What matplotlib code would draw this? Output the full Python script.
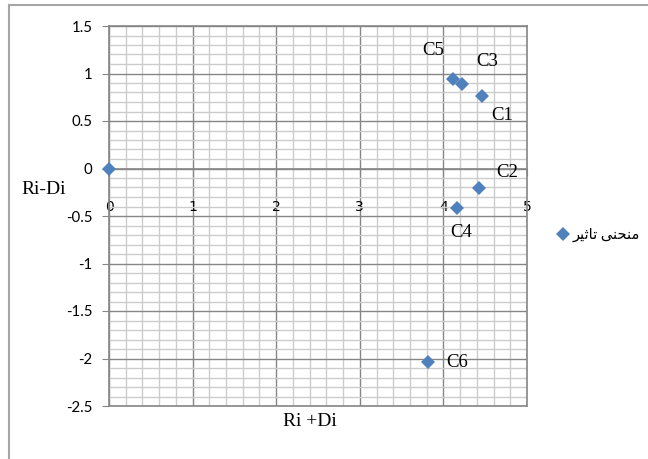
import matplotlib
matplotlib.use("Agg")
import matplotlib.pyplot as plt
from matplotlib.lines import Line2D
from matplotlib.ticker import MultipleLocator, FixedLocator

# --- данные ---
labels = ["", "C5", "C3", "C1", "C2", "C4", "C6"]
x_vals = [0.0, 4.11, 4.22, 4.46, 4.43, 4.16, 3.82]
y_vals = [0.0, 0.94, 0.89, 0.76, -0.21, -0.42, -2.04]
# смещения подписей (в пикселях) относительно точек
label_dx = [0, -19, 25, 20, 28, 4, 29]
label_dy = [0, 29, 22, -19, 16, -24, 0]

y_ticks = [-2.5, -2, -1.5, -1, -0.5, 0, 0.5, 1, 1.5]
y_tick_labels = ["-2.5", "-2", "-1.5", "-1", "-0.5", "0", "0.5", "1", "1.5"]
x_ticks = [0, 1, 2, 3, 4, 5]

# "منحنی تاثیر" в формах представления, в визуальном порядке (слева направо)
legend_label = "\uFEAE\uFBFF\uFE9B\uFE8E\uFE97 \uFBFD\uFEE8\uFEA4\uFEE8\uFEE3"

BLUE = "#4F81BD"
MAJOR = "#868686"
MINOR = "#cccccc"
SERIF = ["Liberation Serif", "DejaVu Sans"]

W, H = 648, 459
fig = plt.figure(figsize=(W / 100, H / 100), dpi=100)
ax = fig.add_axes([109 / W, 1 - 406 / H, (527 - 109) / W, (406 - 26) / H])

ax.set_xlim(0, 5)
ax.set_ylim(-2.5, 1.5)

ax.xaxis.set_major_locator(FixedLocator(x_ticks))
ax.xaxis.set_minor_locator(MultipleLocator(0.2))
ax.yaxis.set_major_locator(FixedLocator(y_ticks))
ax.yaxis.set_minor_locator(MultipleLocator(0.1))
ax.set_yticklabels(y_tick_labels, fontfamily="Lato", fontsize=10.8)
ax.set_xticklabels([str(t) for t in x_ticks], fontfamily=SERIF, fontsize=10.5)

ax.grid(True, which="minor", color=MINOR, lw=1)
ax.grid(True, which="major", color=MAJOR, lw=1)
ax.set_axisbelow(True)

# горизонтальная ось проходит через y = 0
ax.spines["bottom"].set_position(("data", 0))
for s in ax.spines.values():
    s.set_color(MAJOR)
    s.set_linewidth(1.2)
ax.axhline(-2.5, color=MAJOR, lw=1.2, clip_on=False)

ax.tick_params(axis="y", which="major", length=5, direction="out", color=MAJOR, pad=7)
ax.tick_params(axis="x", which="major", length=5, direction="out", color=MAJOR, pad=18)
ax.tick_params(which="minor", length=0)

ax.plot(x_vals, y_vals, ls="none", marker="D", ms=7.2, color=BLUE,
        markeredgewidth=0, label=legend_label, zorder=3, clip_on=False)

for lbl, x, y, dx, dy in zip(labels, x_vals, y_vals, label_dx, label_dy):
    if lbl:
        ax.annotate(lbl, (x, y), xytext=(dx, dy), textcoords="offset pixels",
                    ha="center", va="center", fontsize=13.5, fontfamily=SERIF)

fig.text(43.5 / W, 1 - 190 / H, "Ri-Di", ha="center", va="center",
         fontsize=14, fontfamily=SERIF)
fig.text(310 / W, 1 - 421 / H, "Ri +Di", ha="center", va="center",
         fontsize=14, fontfamily=SERIF)

leg = ax.legend(loc="center left", bbox_to_anchor=(557 / W, 1 - 235 / H),
                bbox_transform=fig.transFigure, frameon=False, handlelength=0.8,
                handletextpad=0.3, borderpad=0, borderaxespad=0,
                prop={"family": SERIF, "size": 10.5})

# рамка области диаграммы (видны только верх и левый край)
fig.add_artist(Line2D([9 / W, 1], [1 - 5 / H, 1 - 5 / H], color="#a6a6a6", lw=1.5))
fig.add_artist(Line2D([9 / W, 9 / W], [0, 1 - 5 / H], color="#a6a6a6", lw=1.5))

fig.savefig("out.png", dpi=100)
